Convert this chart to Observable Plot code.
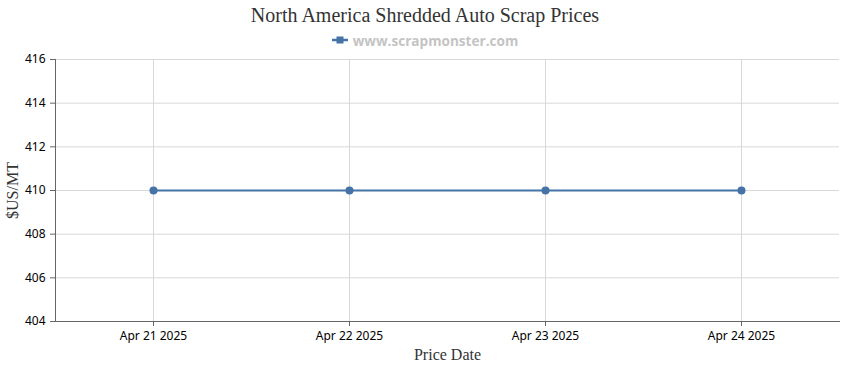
<!DOCTYPE html>
<html>
<head>
<meta charset="utf-8">
<script src="https://cdn.jsdelivr.net/npm/d3@7"></script>
<script src="https://cdn.jsdelivr.net/npm/@observablehq/plot@0.6"></script>
<style>
  body { margin: 0; background: #fff; width: 850px; height: 370px; overflow: hidden; }
  #title { height: 30px; line-height: 31px; text-align: center; font-family: "Liberation Serif", "Times New Roman", serif; font-size: 20px; color: #333; }
  #legend { height: 20px; display: flex; justify-content: center; align-items: center; font-family: "Open Sans", "Noto Sans", sans-serif; font-weight: bold; font-size: 13.6px; color: #c4c4c4; }
  #legend svg { margin-right: 5px; }
  #chart svg { display: block; }
</style>
</head>
<body>
<div id="title">North America Shredded Auto Scrap Prices</div>
<div id="legend"><svg width="16" height="10"><line x1="0" y1="5" x2="16" y2="5" stroke="#4572A7" stroke-width="2.5"/><rect x="4.5" y="1.5" width="7" height="7" fill="#4572A7"/></svg><span>www.scrapmonster.com</span></div>
<div id="chart"></div>
<script>
const dates = ["Apr 21 2025", "Apr 22 2025", "Apr 23 2025", "Apr 24 2025"];
const prices = [410, 410, 410, 410];
const yTicks = [404, 406, 408, 410, 412, 414, 416];
const seriesName = "www.scrapmonster.com";

const data = dates.map((d, i) => ({date: d, price: prices[i]}));
const lineColor = "#4572A7";

const chart = Plot.plot({
  width: 850,
  height: 320,
  marginLeft: 55,
  marginRight: 11,
  marginTop: 9,
  marginBottom: 49,
  style: { fontFamily: "'Noto Sans', 'Open Sans', sans-serif", fontSize: "12px", color: "#000", background: "#fff" },
  x: { type: "point", domain: dates, padding: 0.5 },
  y: { domain: [404, 416] },
  marks: [
    Plot.gridY(yTicks, { stroke: "#d8d8d8", strokeOpacity: 1 }),
    Plot.gridX(dates, { stroke: "#d8d8d8", strokeOpacity: 1 }),
    Plot.axisY(yTicks, { tickSize: 5, tickPadding: 5, stroke: "#666", label: null, fill: "#000" }),
    Plot.axisX(dates, { tickSize: 5, tickPadding: 5, stroke: "#666", label: null, fill: "#000" }),
    Plot.frame({ anchor: "left", stroke: "#666" }),
    Plot.frame({ anchor: "bottom", stroke: "#666" }),
    Plot.line(data, { x: "date", y: "price", stroke: lineColor, strokeWidth: 2 }),
    Plot.dot(data, { x: "date", y: "price", fill: lineColor, r: 4 }),
    Plot.text(["$US/MT"], { frameAnchor: "left", rotate: -90, dx: -43, fontFamily: "'Liberation Serif', serif", fontSize: 16, fill: "#333", textAnchor: "middle" }),
    Plot.text(["Price Date"], { frameAnchor: "bottom", dy: 38, fontFamily: "'Liberation Serif', serif", fontSize: 16, fill: "#333", textAnchor: "middle" })
  ]
});
document.getElementById("chart").appendChild(chart);
</script>
</body>
</html>
